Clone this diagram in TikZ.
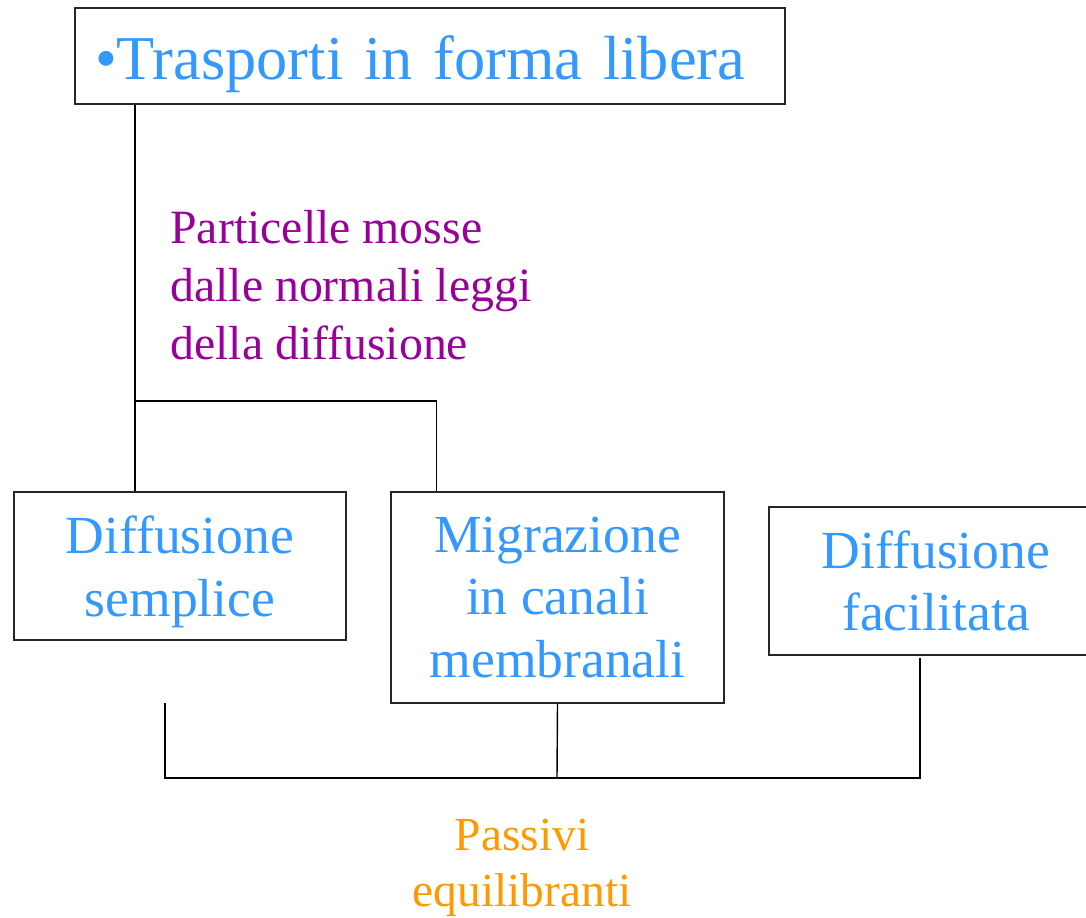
\documentclass[tikz,border=0pt]{standalone}
\usepackage{fontspec}
\setmainfont{Liberation Serif}
\usepackage{tikz}
\usetikzlibrary{positioning, calc}
\definecolor{textblue}{HTML}{3399FF}
\definecolor{notepurple}{HTML}{990099}
\definecolor{passorange}{HTML}{FF9900}

\tikzset{
  kindbox/.style={draw=black!85, line width=0.8pt, align=center, text=textblue, inner sep=0pt,
    font=\fontsize{30.5}{35.5}\selectfont},
  link/.style={black, line width=0.8pt}
}

\begin{document}
\begin{tikzpicture}[x=0.02cm, y=-0.02cm]
  \useasboundingbox (0,0) rectangle (1086,917);

  % Top box
  \node[kindbox, text width=13.4cm, inner xsep=0.4cm, align=left, minimum height=1.92cm, text height=1.2cm,
    font=\fontsize{35.5}{40}\selectfont] (title) at (430,56) {\textbullet Trasporti in forma libera};

  % Three kinds of transport
  \node[kindbox, minimum width=6.64cm, minimum height=2.96cm, text depth=0cm] (simple) at (180,566) {Diffusione\\semplice};
  \node[kindbox, minimum width=6.66cm, minimum height=4.22cm] (canali) at (557.5,597.5) {Migrazione\\in canali\\membranali};
  \node[kindbox, minimum width=6.68cm, minimum height=2.96cm] (facil) at (936,581) {Diffusione\\facilitata};

  % Upper branch
  \coordinate (branch) at (135,401);
  \draw[link] (title.south -| branch) -- (branch |- simple.north);
  \draw[link] (branch) -| ([xshift=0.92cm]canali.north west);

  % Note on the branch
  \node[notepurple, anchor=north west, align=left, inner sep=0pt, font=\fontsize{27.2}{33}\selectfont] (note) at (170,210) {Particelle mosse\\dalle normali leggi\\della diffusione};

  % Lower bracket
  \coordinate (lowleft) at (165,703);
  \coordinate (lowright) at (920,658);
  \coordinate (join) at (557,778);
  \draw[link] (lowleft) |- (join);
  \draw[link] (canali.south) -- (join);
  \draw[link] (lowright) |- (join);

  % Bottom label
  \node[passorange, align=center, inner sep=0pt, font=\fontsize{27}{32}\selectfont] (passive) at (522,868) {Passivi\\equilibranti};
\end{tikzpicture}
\end{document}
